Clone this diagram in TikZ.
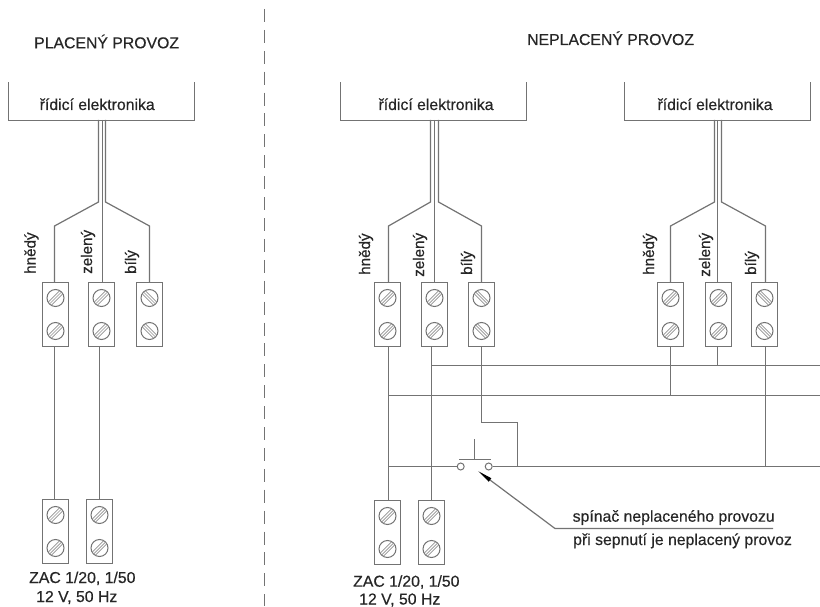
\documentclass[tikz,border=0pt]{standalone}
\usepackage{fontspec}
\setmainfont{Liberation Sans}[FakeBold=0.4]
\usetikzlibrary{arrows.meta}
\definecolor{wire}{gray}{0.45}
\definecolor{ink}{gray}{0.15}
\tikzset{
  wireline/.style={draw=wire,line width=1.2bp,line join=miter},
  termbox/.style={draw=wire,line width=1.2bp,minimum width=26bp,minimum height=64bp,inner sep=0pt},
  screw/.style={circle,draw=wire,line width=1bp,minimum size=17bp,inner sep=0pt},
  slotline/.style={draw=wire!80,line width=0.7bp},
  contact/.style={circle,draw=wire,line width=1bp,minimum size=7bp,inner sep=0pt},
  boxarea/.style={minimum width=185bp,minimum height=38bp,inner sep=0pt},
  txt/.style={text=ink,inner sep=0pt,anchor=base west,font=\fontsize{15.8bp}{18bp}\selectfont},
  vtxt/.style={text=ink,inner sep=0pt,anchor=base west,rotate=90,font=\fontsize{15.2bp}{18bp}\selectfont},
  dashline/.style={draw=wire,line width=1.2bp,dash pattern=on 13bp off 7.9bp}
}
\newcommand{\terminal}[4]{%
  \node[termbox] (#1) at (#2,#3) {};
  \node[screw] (#1-a) at (#2,#3-16.5) {};
  \node[screw] (#1-b) at (#2,#3+16.5) {};
  \foreach \s in {a,b}{
    \draw[slotline,shift={(#1-\s)},rotate=#4] (-8,-2.2) -- (8,-2.2) (-8.4,0) -- (8.4,0) (-8,2.2) -- (8,2.2);
  }
}
\newcommand{\elec}[3]{%
  \node[boxarea] (#1) at (#2,101.5) {};
  \node[txt] (#1-t) at (#3,110) {řídicí elektronika};
  \draw[wireline] (#1.north west) -- (#1.south west) -- (#1.south east) -- (#1.north east);
}
\newcommand{\cable}[6]{%
  \coordinate (#1-l) at (#2,120);
  \coordinate (#1-m) at (#3,120);
  \coordinate (#1-r) at (#4,120);
  \coordinate (#1-lb) at (#2,202);
  \coordinate (#1-rb) at (#4,202);
  \coordinate (#1-lk) at (#5,226);
  \coordinate (#1-rk) at (#6,226);
  \draw[wireline] (#1-l) -- (#1-lb) -- (#1-lk) -- (#5,282);
  \draw[wireline] (#1-m) -- (#3,282);
  \draw[wireline] (#1-r) -- (#1-rb) -- (#1-rk) -- (#6,282);
}
\begin{document}
\begin{tikzpicture}[x=1bp,y=-1bp]
\useasboundingbox (0,0) rectangle (820,607);
\coordinate (dashtop) at (264.5,9);
\coordinate (dashbot) at (264.5,606);
\draw[dashline] (dashtop) -- (dashbot);

\node[txt] (title1) at (34,48.3) {PLACENÝ PROVOZ};
\node[txt] (title2) at (527,45) {NEPLACENÝ PROVOZ};

% left group
\elec{b1}{101.5}{39.5}
\cable{c1}{98.5}{102.5}{105.5}{54.5}{149.5}
\terminal{t1h}{55.5}{314.5}{45}
\terminal{t1z}{101.5}{314.5}{45}
\terminal{t1b}{149.5}{314.5}{-45}
\terminal{z1a}{55.5}{531.5}{45}
\terminal{z1b}{99.5}{531.5}{45}
\coordinate (t1hout) at (54.5,346.5);
\coordinate (z1hin) at (54.5,499.5);
\coordinate (t1zout) at (99.5,346.5);
\coordinate (z1zin) at (99.5,499.5);
\draw[wireline] (t1hout) -- (z1hin);
\draw[wireline] (t1zout) -- (z1zin);
\node[vtxt] (l1h) at (35.5,274) {hnědý};
\node[vtxt] (l1z) at (92,274) {zelený};
\node[vtxt] (l1b) at (136,274) {bílý};
\node[txt] (zac1) at (29,583) {ZAC 1/20, 1/50};
\node[txt] (volt1) at (36,602) {12 V, 50 Hz};

% middle group
\elec{b2}{433.5}{378.3}
\cable{c2}{430.5}{434.5}{438.5}{388.5}{481.5}
\terminal{t2h}{387.5}{314.5}{45}
\terminal{t2z}{434.5}{314.5}{45}
\terminal{t2b}{481.5}{314.5}{-45}
\terminal{z2a}{387.5}{532.5}{45}
\terminal{z2b}{431.5}{532.5}{45}
\node[vtxt] (l2h) at (370,275) {hnědý};
\node[vtxt] (l2z) at (424,277) {zelený};
\node[vtxt] (l2b) at (472,275) {bílý};
\node[txt] (zac2) at (353,586.7) {ZAC 1/20, 1/50};
\node[txt] (volt2) at (359,604.5) {12 V, 50 Hz};

% right group
\elec{b3}{717.5}{657.3}
\cable{c3}{714.5}{717.5}{721.5}{670.5}{765.5}
\terminal{t3h}{670.5}{314.5}{45}
\terminal{t3z}{718.5}{314.5}{45}
\terminal{t3b}{764.5}{314.5}{-45}
\node[vtxt] (l3h) at (654,275) {hnědý};
\node[vtxt] (l3z) at (710,277) {zelený};
\node[vtxt] (l3b) at (756,275) {bílý};

% bus bars
\coordinate (busg) at (431.5,365.5);
\coordinate (busgE) at (820,365.5);
\coordinate (busb) at (388.5,395.5);
\coordinate (busbE) at (820,395.5);
\coordinate (swL) at (388.5,466.5);
\coordinate (swE) at (820,466.5);
\node[contact] (k1) at (460.7,466.5) {};
\node[contact] (k2) at (488.7,466.5) {};
\draw[wireline] (busg) -- (busgE);
\draw[wireline] (busb) -- (busbE);
\draw[wireline] (swL) -- (k1.west);
\draw[wireline] (k2.east) -- (swE);

% verticals
\draw[wireline] (388.5,346.5) -- (388.5,500.5);
\draw[wireline] (431.5,346.5) -- (431.5,500.5);
\draw[wireline] (481.5,346.5) -- (481.5,422.5) -- (517.5,422.5) -- (517.5,466.5);
\draw[wireline] (670.5,346.5) -- (670.5,395.5);
\draw[wireline] (717.5,346.5) -- (717.5,365.5);
\draw[wireline] (765.5,346.5) -- (765.5,466.5);

% switch
\coordinate (barL) at (459,459.5);
\coordinate (barR) at (490.7,459.5);
\coordinate (stemT) at (474.5,439);
\coordinate (stemB) at (474.5,459.5);
\draw[wireline] (barL) -- (barR);
\draw[wireline] (stemT) -- (stemB);

% leader
\coordinate (tip) at (478,471);
\coordinate (elbow) at (555,528.5);
\coordinate (leadE) at (773,528.5);
\draw[wireline,-{Stealth[length=15bp,width=4bp,inset=0pt,black]}] (leadE) -- (elbow) -- (tip);
\node[txt] (note1) at (572.5,521.7) {spínač neplaceného provozu};
\node[txt] (note2) at (573,545) {při sepnutí je neplacený provoz};
\end{tikzpicture}
\end{document}
